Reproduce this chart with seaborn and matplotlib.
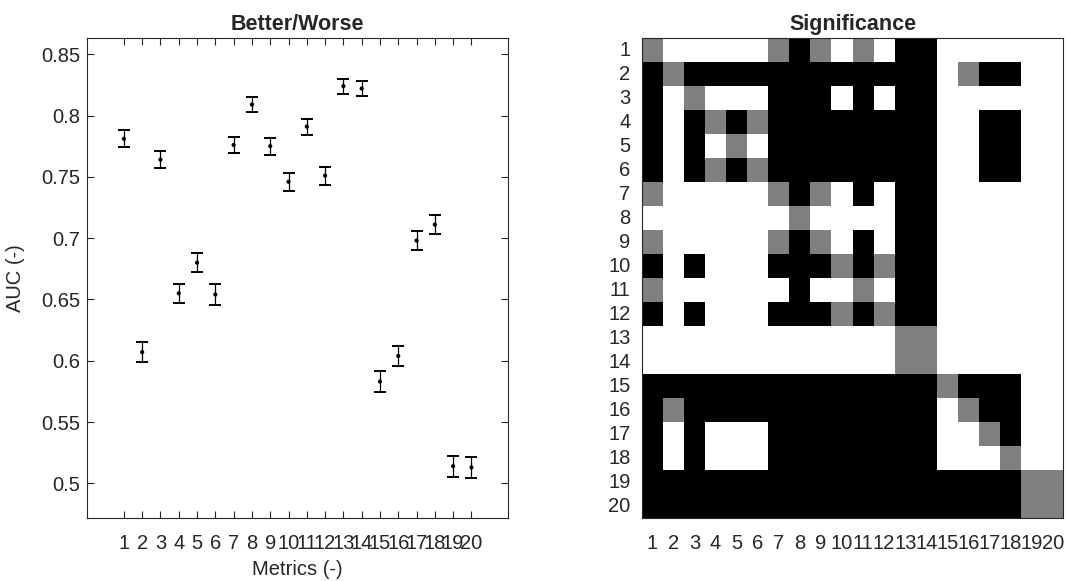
import matplotlib
matplotlib.use('Agg')
import matplotlib.pyplot as plt
from matplotlib.colors import ListedColormap
import numpy as np
import seaborn as sns

# Metric indices and mean AUC with error half-widths
metrics = list(range(1, 21))
auc = [0.781, 0.607, 0.764, 0.655, 0.680, 0.654, 0.776, 0.809, 0.775, 0.746,
       0.791, 0.751, 0.824, 0.822, 0.583, 0.604, 0.698, 0.711, 0.514, 0.513]
auc_err = [0.0068, 0.0082, 0.0068, 0.0076, 0.0078, 0.0082, 0.0068, 0.0063, 0.0068, 0.0072,
           0.0065, 0.0073, 0.0061, 0.0061, 0.0083, 0.0083, 0.0076, 0.0078, 0.0086, 0.0084]
auc_ticks = [0.5, 0.55, 0.6, 0.65, 0.7, 0.75, 0.8, 0.85]
auc_tick_labels = ['0.5', '0.55', '0.6', '0.65', '0.7', '0.75', '0.8', '0.85']

# Significance matrix: W = white, G = gray, B = black
sig_rows = [
    "GWWWWWGBGWGWBBWWWWWW",
    "BGBBBBBBBBBBBBWGBBWW",
    "BWGWWWBBBWBWBBWWWWWW",
    "BWBGBGBBBBBBBBWWBBWW",
    "BWBWGWBBBBBBBBWWBBWW",
    "BWBGBGBBBBBBBBWWBBWW",
    "GWWWWWGBGWBWBBWWWWWW",
    "WWWWWWWGWWWWBBWWWWWW",
    "GWWWWWGBGWBWBBWWWWWW",
    "BWBWWWBBBGBGBBWWWWWW",
    "GWWWWWWBWWGWBBWWWWWW",
    "BWBWWWBBBGBGBBWWWWWW",
    "WWWWWWWWWWWWGGWWWWWW",
    "WWWWWWWWWWWWGGWWWWWW",
    "BBBBBBBBBBBBBBGBBBWW",
    "BGBBBBBBBBBBBBWGBBWW",
    "BWBWWWBBBBBBBBWWGBWW",
    "BWBWWWBBBBBBBBWWWGWW",
    "BBBBBBBBBBBBBBBBBBGG",
    "BBBBBBBBBBBBBBBBBBGG",
]
code = {'W': 0, 'G': 1, 'B': 2}
sig = np.array([[code[c] for c in row] for row in sig_rows])

sns.set_style('ticks')
plt.rcParams['font.family'] = ['Liberation Sans', 'DejaVu Sans']
text_col = '#262626'
fs = 14.5

fig = plt.figure(figsize=(10.66, 5.81), dpi=100)
W, H = 1066, 581
ax1 = fig.add_axes([87.3 / W, 1 - 518.3 / H, (508 - 87.3) / W, 480 / H])
ax2 = fig.add_axes([641.7 / W, 1 - 518.3 / H, (1063.3 - 641.7) / W, 480 / H])

# Left panel: AUC with error bars
ax1.errorbar(metrics, auc, yerr=auc_err, fmt='none', ecolor='black',
             elinewidth=0.9, capsize=4.5, capthick=1.4)
sns.scatterplot(x=metrics, y=auc, ax=ax1, color='black', s=9, edgecolor='none', zorder=3)
ax1.set_xlim(-1, 22)
ax1.set_ylim(0.4715, 0.863)
ax1.set_xticks(metrics)
ax1.set_xticklabels([str(m) for m in metrics])
ax1.set_yticks(auc_ticks)
ax1.set_yticklabels(auc_tick_labels)
ax1.set_title('Better/Worse', fontsize=15.5, fontweight='bold', pad=6)
ax1.set_xlabel('Metrics (-)', fontsize=fs, color=text_col, labelpad=5)
ax1.set_ylabel('AUC (-)', fontsize=fs, color=text_col, labelpad=12)
ax1.tick_params(direction='in', top=True, right=True, length=5, width=0.8,
                colors=text_col, labelsize=fs)
ax1.tick_params(axis='x', pad=11)
ax1.tick_params(axis='y', pad=5)

# Right panel: significance matrix
cmap = ListedColormap(['white', '#808080', 'black'])
sns.heatmap(sig, ax=ax2, cmap=cmap, vmin=0, vmax=2, cbar=False,
            xticklabels=metrics, yticklabels=metrics)
ax2.set_title('Significance', fontsize=15.5, fontweight='bold', pad=6)
ax2.tick_params(direction='in', top=True, right=True, length=5, width=0.8,
                colors=text_col, labelsize=fs)
ax2.tick_params(axis='x', pad=11, labelrotation=0)
ax2.tick_params(axis='y', pad=8, labelrotation=0)

for ax in (ax1, ax2):
    for sp in ax.spines.values():
        sp.set_visible(True)
        sp.set_color(text_col)
        sp.set_linewidth(0.8)

fig.savefig('out.png', dpi=100)
